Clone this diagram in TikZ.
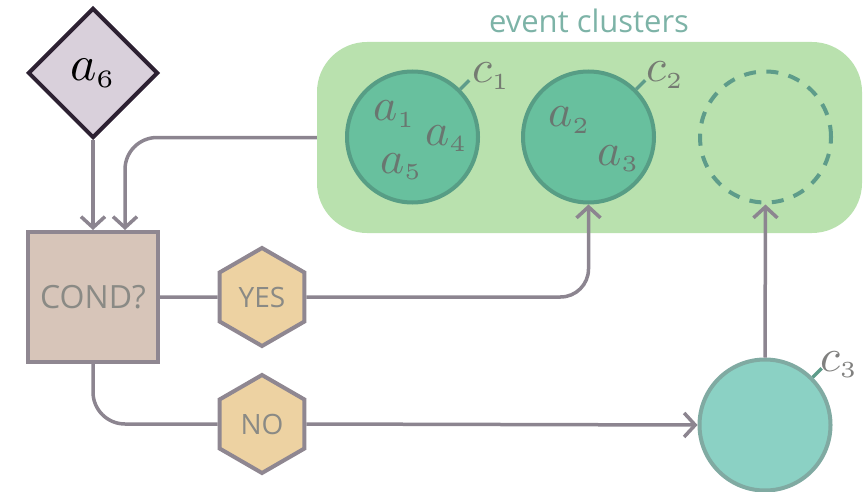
\documentclass[tikz,border=0pt]{standalone}
\usepackage{fontspec}
\setmainfont{Open Sans}
\usetikzlibrary{shapes.geometric,arrows.meta,calc}

\definecolor{boxgreen}{HTML}{B9E1AE}
\definecolor{clusterfill}{HTML}{68C09E}
\definecolor{clusterline}{HTML}{579D85}
\definecolor{emptyline}{HTML}{5E9C8A}
\definecolor{newfill}{HTML}{8BD1C4}
\definecolor{newline}{HTML}{80AAA2}
\definecolor{eventfill}{HTML}{D9D0DB}
\definecolor{eventline}{HTML}{2D2132}
\definecolor{condfill}{HTML}{D7C5B9}
\definecolor{shapeline}{HTML}{8F8791}
\definecolor{hexfill}{HTML}{EDD2A2}
\definecolor{linkcol}{HTML}{8C8590}
\definecolor{textgray}{HTML}{8A8A85}
\definecolor{mathgray}{HTML}{6A6A68}
\definecolor{titlecol}{HTML}{7DB3A7}

% letter with a small index, scaled up
\newcommand{\bigmath}[3][4.6]{\scalebox{#1}{$#2_{\scriptscriptstyle #3}$}}

\tikzstyle{link} = [draw, line width=3.5pt, linkcol]
\tikzstyle{arrowlink} = [link, -{Straight Barb[length=11pt,width=24pt]}]
\tikzstyle{tick} = [draw, line width=3.5pt, emptyline]
\tikzstyle{clusterbox} = [rectangle, rounded corners=50pt, fill=boxgreen, minimum width=545pt, minimum height=191pt, inner sep=0pt]
\tikzstyle{cluster} = [circle, minimum size=131pt, inner sep=0pt, line width=4pt, draw=clusterline, fill=clusterfill]
\tikzstyle{emptycluster} = [circle, minimum size=131pt, inner sep=0pt, line width=4pt, draw=emptyline, dash pattern=on 12pt off 10.5pt]
\tikzstyle{newcluster} = [circle, minimum size=131pt, inner sep=0pt, line width=4pt, draw=newline, fill=newfill]
\tikzstyle{event} = [diamond, aspect=1, minimum width=130pt, minimum height=130pt, inner sep=0pt, line width=4pt, draw=eventline, fill=eventfill]
\tikzstyle{condbox} = [rectangle, minimum size=130pt, inner sep=0pt, line width=4pt, draw=shapeline, fill=condfill, text=textgray, font=\fontsize{32}{34}\selectfont]
\tikzstyle{answer} = [regular polygon, regular polygon sides=6, shape border rotate=30, minimum size=98pt, inner sep=0pt, line width=4pt, draw=shapeline, fill=hexfill, text=textgray, font=\fontsize{28}{30}\selectfont]
\tikzstyle{mathlabel} = [inner sep=0pt, anchor=base west, text=mathgray, text opacity=0.85]

\begin{document}
\begin{tikzpicture}[x=1pt,y=-1pt]
\useasboundingbox (0,0) rectangle (864,492);

% clusters
\node[clusterbox] (clusters) at (589.5,137.5) {};
\node[anchor=base, inner sep=0pt, text=titlecol, font=\fontsize{31}{33}\selectfont] (title) at (589,33) {event clusters};
\foreach \pos/\name in {{(412.5,137)/c1}, {(588.5,137)/c2}} {
    \node[cluster] (\name) at \pos {};
}
\node[emptycluster] (c0) at (765.5,137) {};
\node[newcluster] (c3) at (765,425) {};

% decision
\node[event] (a6) at (93,73) {\bigmath[5.0]{a}{6}};
\node[condbox] (cond) at (93,297) {COND?};
\node[answer] (yes) at (262,297) {YES};
\node[answer] (no) at (262,424) {NO};

% labels
\foreach \pos/\sym/\idx/\name in {{(373,121)/a/1/a1}, {(425,145)/a/4/a4}, {(380,173)/a/5/a5}, {(548,127)/a/2/a2}, {(597,165)/a/3/a3}, {(472,83)/c/1/l1}, {(646,82)/c/2/l2}, {(820,371)/c/3/l3}} {
    \node[mathlabel] (\name) at \pos {\bigmath{\sym}{\idx}};
}
\foreach \circ in {c1, c2, c3} {
    \path[tick] (\circ.north east) -- ++(9,-9);
}

% connectors
\coordinate (cond in) at ($(cond.north)+(32,0)$);
\path[arrowlink] (a6.south) -- (cond.north);
\path[arrowlink, rounded corners=32pt] (clusters.west) -| (cond in);
\path[link] (cond.east) -- (yes.west);
\path[arrowlink, rounded corners=28pt] (yes.east) -| (c2.south);
\path[link, rounded corners=32pt] (cond.south) |- (no.west);
\path[arrowlink] (no.east) -- (c3.west);
\path[arrowlink] (c3.north) -- (c0.south);
\end{tikzpicture}
\end{document}
